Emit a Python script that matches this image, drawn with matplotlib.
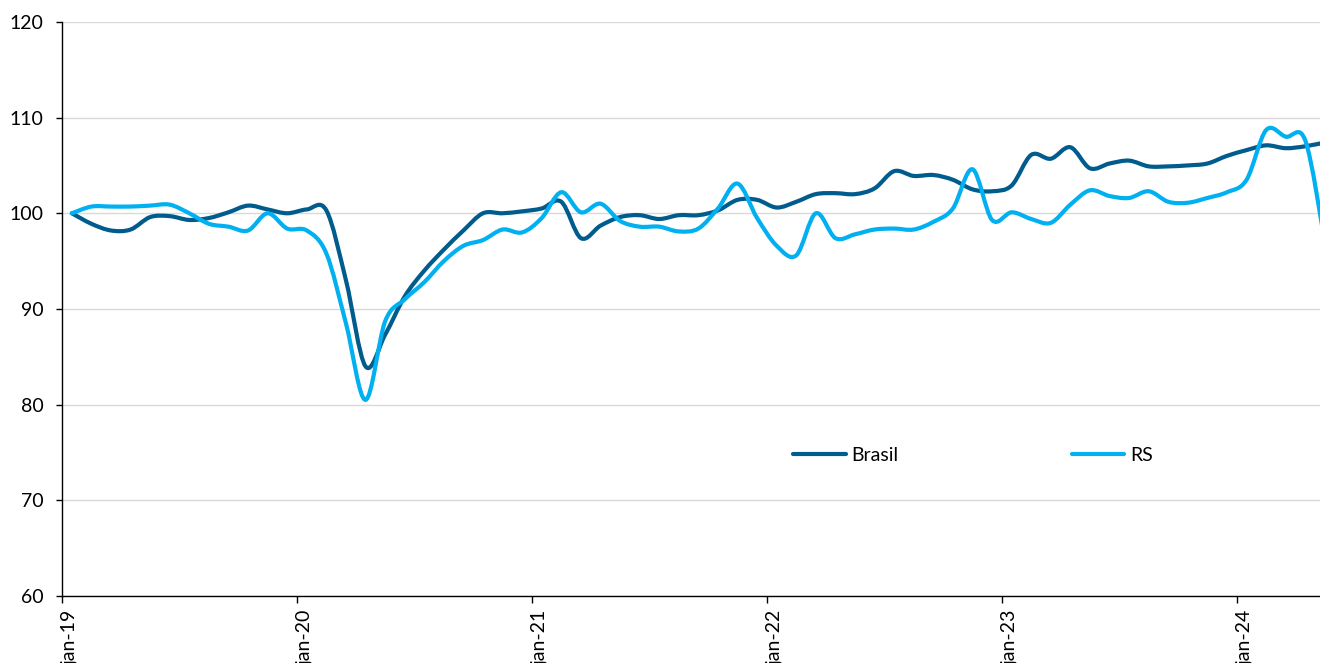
import numpy as np
import matplotlib as mpl
import matplotlib.pyplot as plt
from matplotlib.path import Path
from matplotlib.patches import PathPatch
from matplotlib.lines import Line2D

mpl.rcParams.update({
    'font.family': ['Lato', 'DejaVu Sans'],
    'font.size': 14,
    'axes.linewidth': 1.0,
    'xtick.major.width': 1.0,
    'ytick.major.width': 1.0,
    'xtick.major.size': 5,
    'ytick.major.size': 4.5,
})

# monthly index, jan-19 .. may-24
brasil = [100.0, 98.9, 98.2, 98.3, 99.6, 99.7, 99.3, 99.5, 100.1, 100.8, 100.4, 100.0,
          100.4, 100.3, 93.0, 84.0, 87.3, 91.3, 94.0, 96.2, 98.2, 100.0, 100.0, 100.2,
          100.5, 101.2, 97.4, 98.7, 99.6, 99.8, 99.4, 99.8, 99.8, 100.3, 101.4, 101.4,
          100.6, 101.2, 102.0, 102.1, 102.0, 102.6, 104.4, 103.9, 104.0, 103.5, 102.5, 102.3,
          102.9, 106.1, 105.7, 106.9, 104.7, 105.2, 105.5, 104.9, 104.9, 105.0, 105.2, 106.0,
          106.6, 107.1, 106.8, 107.0, 107.4]
rs = [100.0, 100.7, 100.7, 100.7, 100.8, 100.9, 100.0, 98.9, 98.6, 98.2, 100.0, 98.4,
      98.2, 95.8, 88.5, 80.5, 88.7, 91.0, 92.8, 95.0, 96.6, 97.2, 98.3, 98.0,
      99.5, 102.2, 100.1, 101.0, 99.2, 98.6, 98.6, 98.1, 98.4, 100.5, 103.1, 99.5,
      96.6, 95.6, 100.0, 97.4, 97.8, 98.3, 98.4, 98.3, 99.1, 100.5, 104.6, 99.3,
      100.1, 99.4, 99.0, 100.9, 102.4, 101.8, 101.6, 102.3, 101.2, 101.1, 101.6, 102.2,
      103.5, 108.7, 108.0, 107.6, 97.0]
tick_labels = ['jan-19', 'jan-20', 'jan-21', 'jan-22', 'jan-23', 'jan-24']
yticks = [60, 70, 80, 90, 100, 110, 120]

c_brasil = '#005C8C'
c_rs = '#00B0F0'


def smooth_path(x, y):
    # Excel-like smoothed line: Catmull-Rom as cubic Bezier segments
    p = np.column_stack([x, y])
    n = len(p)
    verts = [p[0]]
    codes = [Path.MOVETO]
    for i in range(n - 1):
        p0 = p[max(i - 1, 0)]
        p1 = p[i]
        p2 = p[i + 1]
        p3 = p[min(i + 2, n - 1)]
        verts += [p1 + (p2 - p0) / 6, p2 - (p3 - p1) / 6, p2]
        codes += [Path.CURVE4] * 3
    return Path(verts, codes)


fig = plt.figure(figsize=(13.2, 6.63), dpi=100)
ax = fig.add_axes([0.047, 0.101, 0.953, 0.866])

x = np.arange(len(brasil)) + 0.5
for vals, col in [(brasil, c_brasil), (rs, c_rs)]:
    ax.add_patch(PathPatch(smooth_path(x, vals), fill=False, edgecolor=col,
                           lw=3, capstyle='round', joinstyle='round', zorder=3))

ax.set_ylim(60, 120)
ax.set_yticks(yticks)
ax.tick_params(axis='y', pad=9)
ax.set_xlim(0, 64.25)
ax.set_xticks(np.arange(len(tick_labels)) * 12)
ax.set_xticklabels(tick_labels, rotation=90, va='top', ha='left')
ax.tick_params(axis='x', pad=5)
ax.yaxis.grid(True, color='#D9D9D9', lw=1)
ax.set_axisbelow(True)
for s in ['top', 'right']:
    ax.spines[s].set_visible(False)

handles = [Line2D([], [], color=c_brasil, lw=3, solid_capstyle='round'),
           Line2D([], [], color=c_rs, lw=3, solid_capstyle='round')]
ax.legend(handles, ['Brasil', 'RS'], loc='center', bbox_to_anchor=(0.724, 0.2456),
          ncol=2, frameon=False, handlelength=2.7, handletextpad=0.3,
          columnspacing=8.9, fontsize=14)

fig.savefig('out.png', dpi=100)
